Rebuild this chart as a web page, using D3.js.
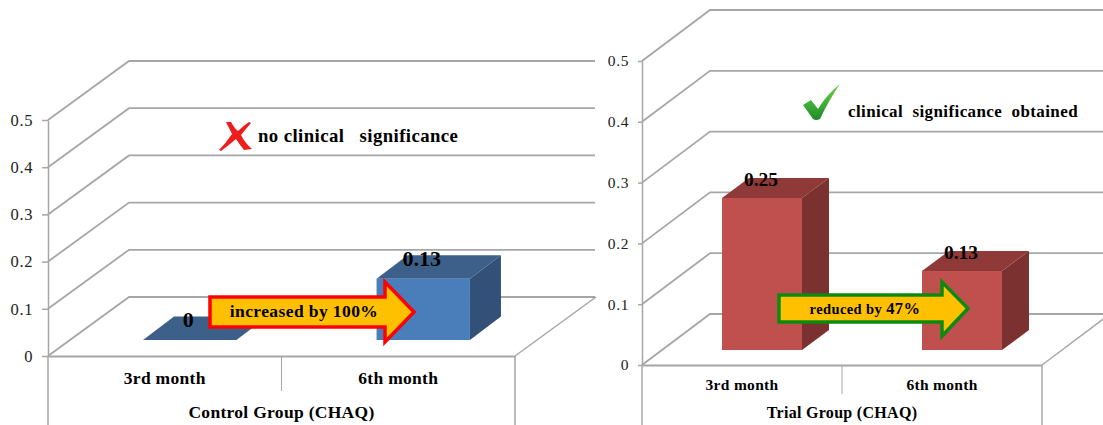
<!DOCTYPE html>
<html>
<head>
<meta charset="utf-8">
<script src="https://cdn.jsdelivr.net/npm/d3@7"></script>
<style>
  html, body { margin: 0; padding: 0; background: #fff; }
  svg { display: block; }
  text { font-family: "Liberation Serif", serif; fill: #000; }
</style>
</head>
<body>
<script>
const categories = ["3rd month", "6th month"];
const controlValues = [0, 0.13];
const trialValues = [0.25, 0.13];
const yTicks = [0, 0.1, 0.2, 0.3, 0.4, 0.5];

const svg = d3.select("body").append("svg").attr("width", 1103).attr("height", 425);

const gridColor = "#a6a6a6";

svg.append("defs").append("linearGradient").attr("id", "tick-green")
  .attr("x1", 0).attr("y1", 0).attr("x2", 0).attr("y2", 1)
  .selectAll("stop")
  .data([["0%", "#7ccb5a"], ["55%", "#3fae35"], ["100%", "#1f8a2a"]])
  .join("stop")
  .attr("offset", d => d[0])
  .attr("stop-color", d => d[1]);

function drawChart(cfg) {
  const x = d3.scaleBand().domain(categories).range([cfg.left, cfg.right]);
  const y = d3.scaleLinear().domain([0, 0.5]).range([cfg.bottom, cfg.top]);
  const g = svg.append("g");

  // back wall gridlines and the slanted side wall lines
  g.selectAll("path.grid")
    .data(yTicks)
    .join("path")
    .attr("class", "grid")
    .attr("fill", "none")
    .attr("stroke", gridColor)
    .attr("stroke-width", 1.8)
    .attr("d", d => `M${cfg.left},${y(d)}L${cfg.left + cfg.wallX},${y(d) + cfg.wallY}H${cfg.gridEnd}`);

  // floor right edge
  g.append("line")
    .attr("x1", cfg.right).attr("y1", y(0))
    .attr("x2", cfg.right + cfg.wallX).attr("y2", y(0) + cfg.wallY)
    .attr("stroke", gridColor).attr("stroke-width", 1.5);

  // lower box of the category table
  g.selectAll("line.frame")
    .data([[cfg.left, 425], [x(categories[1]), cfg.dividerEnd], [cfg.right, 425]])
    .join("line")
    .attr("class", "frame")
    .attr("x1", d => d[0]).attr("x2", d => d[0])
    .attr("y1", y(0)).attr("y2", d => d[1])
    .attr("stroke", gridColor).attr("stroke-width", d => d[1] === 425 ? 1.5 : 1);

  const barW = x.bandwidth() * 0.4;
  const barX = c => x(c) + (x.bandwidth() - barW) / 2 + cfg.floorX;
  const base = y(0) + cfg.floorY;
  const barTop = v => base - (y(0) - y(v));
  const bars = categories.map((c, i) => ({ c, v: cfg.values[i] }));
  const poly = pts => pts.map(p => p.join(",")).join(" ");

  const bar = g.selectAll("g.bar").data(bars).join("g").attr("class", "bar");

  bar.filter(d => d.v > 0).append("polygon")
    .attr("fill", cfg.side)
    .attr("points", d => {
      const r = barX(d.c) + barW;
      return poly([[r, base], [r + cfg.depthX, base + cfg.depthY], [r + cfg.depthX, barTop(d.v) + cfg.depthY], [r, barTop(d.v)]]);
    });

  bar.append("polygon")
    .attr("fill", cfg.topFace)
    .attr("points", d => {
      const l = barX(d.c), t = barTop(d.v);
      return poly([[l, t], [l + barW, t], [l + barW + cfg.depthX, t + cfg.depthY], [l + cfg.depthX, t + cfg.depthY]]);
    });

  bar.filter(d => d.v > 0).append("rect")
    .attr("fill", cfg.front)
    .attr("x", d => barX(d.c))
    .attr("y", d => barTop(d.v))
    .attr("width", barW)
    .attr("height", d => base - barTop(d.v));

  bar.append("text")
    .attr("x", d => barX(d.c) + barW / 2 + cfg.labelShift)
    .attr("y", d => barTop(d.v) - cfg.labelGap)
    .attr("text-anchor", "middle")
    .attr("font-weight", "bold")
    .attr("font-size", cfg.labelSize)
    .text(d => d.v);

  // y axis
  const yAxis = g.append("g")
    .attr("transform", `translate(${cfg.left},0)`)
    .call(d3.axisLeft(y).tickValues(yTicks).tickSize(cfg.tickLen).tickSizeOuter(0).tickPadding(cfg.tickPad).tickFormat(d => d));
  yAxis.selectAll("line, path").attr("stroke", gridColor).attr("stroke-width", 1.5);
  yAxis.selectAll("text")
    .attr("font-size", cfg.tickSize).attr("letter-spacing", "0.6px").style("fill", "#222");
  yAxis.attr("font-family", null);

  // category axis
  const xAxis = g.append("g")
    .attr("transform", `translate(0,${y(0)})`)
    .call(d3.axisBottom(x).tickSize(0).tickPadding(cfg.catPad));
  xAxis.attr("font-family", null);
  xAxis.select("path").attr("stroke", gridColor).attr("stroke-width", 1.8);
  xAxis.selectAll("text").attr("font-size", cfg.catSize).attr("font-weight", "bold").attr("letter-spacing", "0.3px");

  g.append("text")
    .attr("x", (cfg.left + cfg.right) / 2)
    .attr("y", 418)
    .attr("text-anchor", "middle")
    .attr("font-weight", "bold")
    .attr("font-size", cfg.titleSize)
    .attr("letter-spacing", "0.3px")
    .text(cfg.title);

  // block arrow
  const a = cfg.arrow;
  const mid = (a.top + a.bot) / 2;
  g.append("polygon")
    .attr("fill", "#ffc000")
    .attr("stroke", a.stroke)
    .attr("stroke-width", a.width)
    .attr("points", poly([[a.x0, a.top], [a.neck, a.top], [a.neck, a.headTop], [a.tip, mid], [a.neck, a.headBot], [a.neck, a.bot], [a.x0, a.bot]]));

  const arrowText = g.append("text")
    .attr("x", a.textX).attr("y", mid + 5)
    .attr("text-anchor", "middle")
    .attr("font-weight", "bold")
    .attr("font-size", a.size)
    .attr("letter-spacing", "0.4px")
    .text(a.text);
  if (a.textBig) {
    arrowText.append("tspan").attr("font-size", a.size + 2).text(a.textBig);
  }

  // note beside the mark
  g.append("text")
    .attr("x", cfg.noteX).attr("y", cfg.noteY)
    .attr("font-weight", "bold")
    .attr("font-size", cfg.noteSize)
    .attr("letter-spacing", "0.4px")
    .style("white-space", "pre")
    .text(cfg.note);
}

drawChart({
  values: controlValues,
  title: "Control Group (CHAQ)",
  left: 48, right: 515, top: 120, bottom: 356, gridEnd: 595,
  wallX: 81, wallY: -59, floorX: 25, floorY: -16,
  depthX: 31, depthY: -23.5, dividerEnd: 391,
  front: "#4a7ebb", topFace: "#3c6089", side: "#325078",
  labelGap: 13, labelSize: 22, labelShift: -1.5,
  tickLen: 6, tickPad: 9, tickSize: 16.5,
  catPad: 16, catSize: 17.5, titleSize: 17.5,
  noteX: 258, noteY: 142, noteSize: 18.8, note: "no clinical   significance",
  arrow: { x0: 210, neck: 385, tip: 414, top: 297, bot: 327, headTop: 282, headBot: 342,
    stroke: "#ff0000", width: 3.5, textX: 304, size: 17.5, text: "increased by 100%" }
});

drawChart({
  values: trialValues,
  title: "Trial Group (CHAQ)",
  left: 642, right: 1042, top: 61, bottom: 365, gridEnd: 1103,
  wallX: 68, wallY: -51, floorX: 20, floorY: -15,
  depthX: 27, depthY: -20, dividerEnd: 394,
  front: "#c0504d", topFace: "#8f3a38", side: "#7b3130",
  labelGap: 12, labelSize: 19.5, labelShift: -1,
  tickLen: 4, tickPad: 9, tickSize: 15.5,
  catPad: 14, catSize: 15.5, titleSize: 16,
  noteX: 848, noteY: 117, noteSize: 17, note: "clinical  significance  obtained",
  arrow: { x0: 779, neck: 942, tip: 968, top: 295, bot: 322, headTop: 282, headBot: 336,
    stroke: "#0d8a0d", width: 3.5, textX: 865, size: 14.5, text: "reduced by ", textBig: "47%" }
});

// red cross beside the left note
svg.append("path")
  .attr("fill", "#ee1c1c")
  .attr("d", "M226,122L231,122Q235,129 238,131Q243,126 249,122L251,123Q245,130 241,135Q245,143 252,149L244,150Q240,145 236,139Q229,145 221,151L219,150Q226,143 232,134Q229,128 226,122Z");

// green tick beside the right note
svg.append("path")
  .attr("fill", "url(#tick-green)")
  .attr("d", "M803,105L811,100L818,109Q827,94 840,84Q829,100 820,119Q816,121 813,119Z");
</script>
</body>
</html>
